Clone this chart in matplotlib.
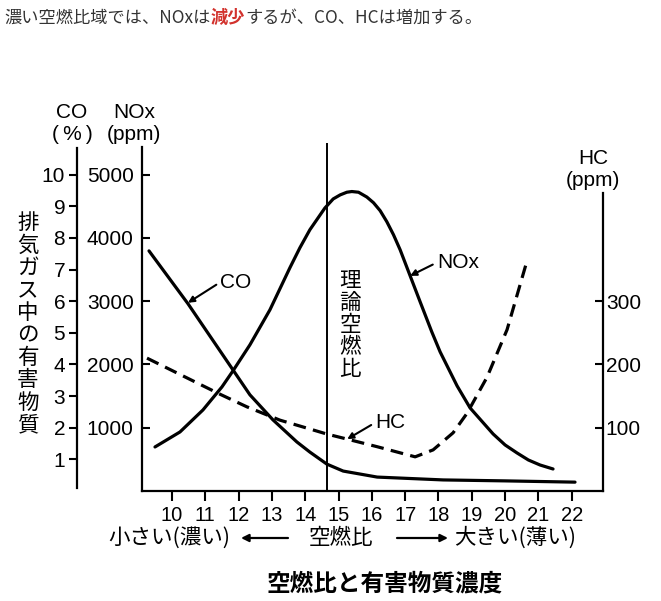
import matplotlib
matplotlib.use('Agg')
import matplotlib.pyplot as plt

plt.rcParams['font.family'] = ['Liberation Sans', 'Noto Sans CJK JP', 'DejaVu Sans']

# ---------------- data ----------------
afr_ticks = list(range(10, 23))
co_ticks = list(range(1, 11))
nox_ticks = [1000, 2000, 3000, 4000, 5000]
hc_ticks = [100, 200, 300]
stoich_afr = 14.65

co_afr = [9.31, 10.48, 11.83, 12.34, 13.03, 13.75, 14.14, 14.65, 15.14, 16.16, 18.14, 20.0, 22.1]
co_val = [7.59, 5.92, 3.83, 3.04, 2.25, 1.55, 1.23, 0.85, 0.63, 0.44, 0.35, 0.32, 0.28]

nox_afr = [9.49, 10.24, 10.93, 11.50, 11.83, 12.34, 12.94, 13.54, 13.84, 14.14, 14.59,
           14.84, 15.05, 15.25, 15.40, 15.60, 15.85, 16.05, 16.25, 16.45, 16.65, 16.85,
           17.15, 17.45, 17.8, 18.05, 18.56, 18.95, 19.64, 20.0, 20.36, 20.7, 21.05, 21.44]
nox_val = [696, 933, 1281, 1645, 1898, 2310, 2863, 3528, 3844, 4129, 4472,
           4616, 4680, 4722, 4733, 4722, 4646, 4556, 4430, 4256, 4050, 3812,
           3401, 2990, 2515, 2199, 1661, 1313, 902, 728, 601, 490, 411, 348]

hc_afr = [9.25, 11.44, 12.25, 13.24, 14.14, 14.65, 15.26, 16.16, 17.30,
          17.84, 18.44, 18.86, 19.46, 20.06, 20.66]
hc_val = [210, 153, 133, 112, 98, 90, 82, 70, 54, 65, 92, 123, 180, 255, 364]

title_parts = ['濃い空燃比域では、NOxは', '減少', 'するが、CO、HCは増加する。']
y_label = '排気ガス中の有害物質'
stoich_label = '理論空燃比'
x_left_label = '小さい(濃い)'
x_mid_label = '空燃比'
x_right_label = '大きい(薄い)'
caption = '空燃比と有害物質濃度'

# ---------------- figure ----------------
W, H = 661, 601
fig = plt.figure(figsize=(W / 100, H / 100), dpi=100)

def fp(x, y):
    return (x / W, 1 - y / H)

L, R, B, T = 142, 603, 491, 143
ax = fig.add_axes([L / W, 1 - B / H, (R - L) / W, (B - T) / H])
ax.patch.set_alpha(0)
ax.set_xlim(9.1, 22.94)
co_top = 11.0
ax.set_ylim(0, co_top)

ax_nox = ax.twinx()
ax_nox.set_ylim(0, co_top * 500)
ax_hc = ax.twinx()
ax_hc.set_ylim(0, co_top * 50)

for a in (ax, ax_nox, ax_hc):
    for s in a.spines.values():
        s.set_visible(False)
        s.set_linewidth(1.6)

# bottom axis
ax.spines['bottom'].set_visible(True)
ax.set_xticks(afr_ticks)
ax.tick_params(axis='x', direction='out', length=7, width=1.5, pad=3.5, labelsize=14.5)

# CO axis (outer left)
ax.spines['left'].set_visible(True)
ax.spines['left'].set_position(('axes', (77 - L) / (R - L)))
ax.spines['left'].set_bounds(0.1, 10.85)
ax.set_yticks(co_ticks)
ax.tick_params(axis='y', direction='out', length=6, width=1.5, pad=2.5, labelsize=15)

# NOx axis (inner left)
ax_nox.spines['left'].set_visible(True)
ax_nox.spines['left'].set_bounds(0, 5443)
ax_nox.yaxis.set_ticks_position('left')
ax_nox.yaxis.set_label_position('left')
ax_nox.set_yticks(nox_ticks)
ax_nox.tick_params(axis='y', direction='in', length=6, width=1.5, pad=6, labelsize=15)

# HC axis (right)
ax_hc.spines['right'].set_visible(True)
ax_hc.spines['right'].set_bounds(0, 471)
ax_hc.set_yticks(hc_ticks)
ax_hc.tick_params(axis='y', direction='in', length=6, width=1.5, pad=2, labelsize=15)

# stoichiometric line
ax.axvline(stoich_afr, color='black', lw=1.4)

# curves
ax.plot(co_afr, co_val, color='black', lw=2.3, solid_capstyle='round', solid_joinstyle='round')
ax_nox.plot(nox_afr, nox_val, color='black', lw=2.3, solid_capstyle='round', solid_joinstyle='round')
ax_hc.plot(hc_afr, hc_val, color='black', lw=2.3, dashes=(4, 2.3))

arrow = dict(arrowstyle='-|>', lw=1.5, color='black', mutation_scale=9, shrinkA=1, shrinkB=0)
ax.annotate('CO', xy=(10.48, 5.95), xytext=(11.45, 6.6), fontsize=15, ha='left', va='center',
            arrowprops=dict(arrow, relpos=(0, 0.5)))
ax_nox.annotate('NOx', xy=(17.15, 3401), xytext=(17.95, 3610), fontsize=15, ha='left', va='center',
                arrowprops=dict(arrow, relpos=(0, 0.5)))
ax_hc.annotate('HC', xy=(15.26, 82), xytext=(16.1, 108), fontsize=15, ha='left', va='center',
               arrowprops=dict(arrow, relpos=(0, 0.5)))

# axis headers
hdr = dict(fontsize=15, ha='center', va='center', linespacing=1.2)
fig.text(*fp(72, 124), 'CO\n(\u2009%\u2009)', **hdr)
fig.text(*fp(134, 124), 'NOx\n(ppm)', **hdr)
fig.text(*fp(593, 170), 'HC\n(ppm)', **hdr)

cjk = ['Noto Sans CJK JP', 'DejaVu Sans']
# vertical y label
for i, ch in enumerate(y_label):
    fig.text(*fp(28, 223 + i * 22.5), ch, fontsize=15.5, ha='center', va='center', family=cjk)
# vertical stoich label
for i, ch in enumerate(stoich_label):
    fig.text(*fp(350, 281 + i * 22), ch, fontsize=15.5, ha='center', va='center', family=cjk)

# bottom labels
fig.text(*fp(169, 538), x_left_label, fontsize=15.5, ha='center', va='center', family=cjk)
fig.text(*fp(341, 538), x_mid_label, fontsize=15.5, ha='center', va='center', family=cjk)
fig.text(*fp(515, 538), x_right_label, fontsize=15.5, ha='center', va='center', family=cjk)
barrow = dict(arrowstyle='-|>', lw=1.6, color='black', mutation_scale=11, shrinkA=0, shrinkB=0)
ax.annotate('', xy=(241, H - 538), xytext=(288, H - 538), xycoords='figure pixels',
            textcoords='figure pixels', arrowprops=barrow, annotation_clip=False)
ax.annotate('', xy=(448, H - 538), xytext=(397, H - 538), xycoords='figure pixels',
            textcoords='figure pixels', arrowprops=barrow, annotation_clip=False)

fig.text(*fp(385, 583), caption, fontsize=17, fontweight='bold', ha='center', va='center', family=cjk)

# title line with red highlight
t1 = fig.text(*fp(4, 18), title_parts[0], fontsize=12.4, color='#333333', ha='left', va='center', family=cjk)
t2 = ax.annotate(title_parts[1], xy=(1, 0), xycoords=t1, xytext=(0, 0), textcoords='offset points',
                 fontsize=12.4, color='#d2322d', fontweight='bold', ha='left', va='bottom',
                 family=cjk, annotation_clip=False)
ax.annotate(title_parts[2], xy=(1, 0), xycoords=t2, xytext=(0, 0), textcoords='offset points',
            fontsize=12.4, color='#333333', ha='left', va='bottom', family=cjk, annotation_clip=False)

fig.savefig('out.png', dpi=100)
